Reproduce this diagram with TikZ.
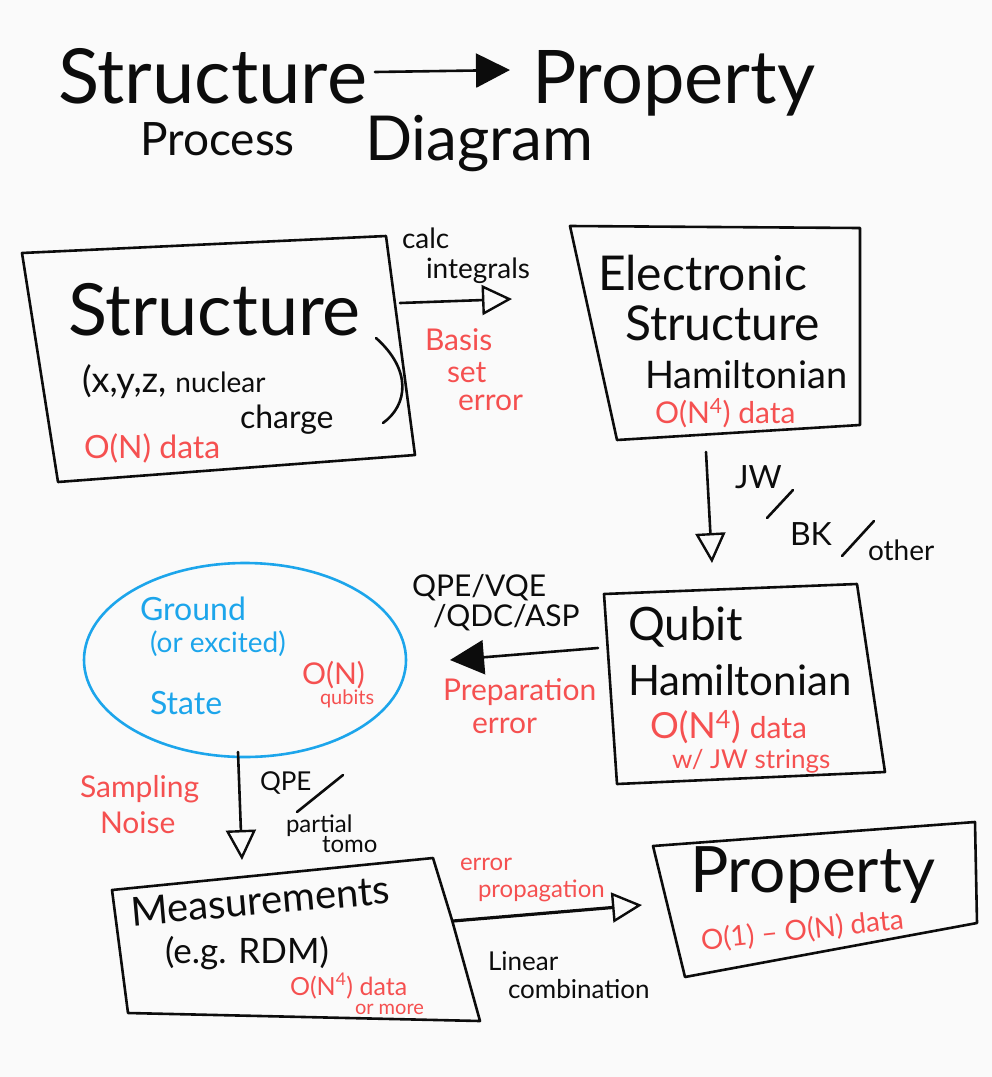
\documentclass[tikz,border=0pt]{standalone}
\usepackage{fontspec}
\setmainfont{Lato}
\usetikzlibrary{arrows.meta,shapes.geometric}
\definecolor{ink}{RGB}{12,12,12}
\definecolor{redink}{RGB}{245,80,80}
\definecolor{blueink}{RGB}{28,165,235}
\definecolor{paper}{RGB}{250,250,250}
\newcommand{\fs}[1]{\fontsize{#1}{#1}\selectfont}
\begin{document}
\begin{tikzpicture}[x=1pt,y=-1pt,
  stroke/.style={draw=ink, line width=2.6pt, line cap=round, line join=round},
  bluestroke/.style={draw=blueink, line width=2.6pt},
  lbl/.style={inner sep=0pt, outer sep=0pt, text=ink, anchor=base west},
  redlbl/.style={lbl, text=redink},
  bluelbl/.style={lbl, text=blueink},
  openhead/.style={-{Triangle[open, length=30pt, width=30pt, line width=2.4pt]}},
  fullhead/.style={-{Triangle[length=34pt, width=34pt]}}
]
\fill[paper] (0,0) rectangle (992,1077);
\useasboundingbox (0,0) rectangle (992,1077);

% ---------- title ----------
\node[lbl, font=\fs{76}] (t1) at (58,103) {Structure};
\node[lbl, font=\fs{74}] (t2) at (532,103) {Property};
\draw[stroke, fullhead] ([xshift=8pt]t1.east |- 0,72) coordinate (ta) -- (510,70) coordinate (tb);
\node[lbl, font=\fs{46}] (t3) at (140,155) {Process};
\node[lbl, font=\fs{62}] (t4) at (365,160) {Diagram};

% ---------- Structure box ----------
\coordinate (s1) at (22,253);
\coordinate (s2) at (386,236);
\coordinate (s3) at (415,455);
\coordinate (s4) at (58,482);
\draw[stroke] (s1) -- (s2) -- (s3) -- (s4) -- cycle;
\node[lbl, font=\fs{72}] (sT) at (68,335) {Structure};
\node[lbl, font=\fs{36}] (sX) at (82,392) {(x,y,z, \fs{28}nuclear};
\node[lbl, font=\fs{32}] (sC) at (240,428) {charge};
\draw[stroke] (376,338) .. controls (412,370) and (408,405) .. (383,423);
\node[redlbl, font=\fs{32}] (sD) at (84,458) {O(N) data};

% ---------- calc integrals arrow ----------
\coordinate (a1s) at (400,303);
\coordinate (a1e) at (512,299);
\draw[stroke, openhead] (a1s) -- (a1e);
\node[lbl, font=\fs{28}] (ci1) at (402,248) {calc};
\node[lbl, font=\fs{28}] (ci2) at (426,278) {integrals};
\node[redlbl, font=\fs{30}] (bs1) at (425,350) {Basis};
\node[redlbl, font=\fs{30}] (bs2) at (447,382) {set};
\node[redlbl, font=\fs{30}] (bs3) at (458,410) {error};

% ---------- Electronic structure Hamiltonian box ----------
\coordinate (e1) at (570,226);
\coordinate (e2) at (860,228);
\coordinate (e3) at (860,425);
\coordinate (e4) at (617,440);
\draw[stroke] (e1) -- (e2) -- (e3) -- (e4) -- cycle;
\node[lbl, font=\fs{48}] (eT1) at (598,290) {Electronic};
\node[lbl, font=\fs{48}] (eT2) at (625,340) {Structure};
\node[lbl, font=\fs{38}] (eT3) at (645,388) {Hamiltonian};
\node[redlbl, font=\fs{30}] (eD) at (655,423) {O(N\textsuperscript{4}) data};

% ---------- JW arrow ----------
\coordinate (a2s) at (706,452);
\coordinate (a2e) at (712,563);
\draw[stroke, openhead] (a2s) -- (a2e);
\node[lbl, font=\fs{32}] (jw) at (735,488) {JW};
\draw[stroke] (767,518) -- (793,490);
\node[lbl, font=\fs{32}] (bk) at (790,545) {BK};
\draw[stroke] (842,556) -- (874,521);
\node[lbl, font=\fs{28}] (oth) at (868,560) {other};

% ---------- Qubit Hamiltonian box ----------
\coordinate (q1) at (604,594);
\coordinate (q2) at (857,584);
\coordinate (q3) at (885,772);
\coordinate (q4) at (617,784);
\draw[stroke] (q1) -- (q2) -- (q3) -- (q4) -- cycle;
\node[lbl, font=\fs{46}] (qT1) at (628,640) {Qubit};
\node[lbl, font=\fs{42}] (qT2) at (628,695) {Hamiltonian};
\node[redlbl, font=\fs{36}] (qD) at (650,738) {O(N\textsuperscript{4}) \fs{30}data};
\node[redlbl, font=\fs{26}] (qW) at (672,768) {w/ JW strings};

% ---------- QPE/VQE arrow ----------
\coordinate (a3s) at (598,648);
\coordinate (a3e) at (450,660);
\draw[stroke, fullhead] (a3s) -- (a3e);
\node[lbl, font=\fs{30}] (qv1) at (412,596) {QPE/VQE};
\node[lbl, font=\fs{30}] (qv2) at (433,626) {/QDC/ASP};
\node[redlbl, font=\fs{30}] (pe1) at (443,700) {Preparation};
\node[redlbl, font=\fs{30}] (pe2) at (472,733) {error};

% ---------- State ellipse ----------
\node[ellipse, bluestroke, minimum width=322pt, minimum height=194pt, inner sep=0pt] (state) at (245,660) {};
\node[bluelbl, font=\fs{32}] (g1) at (140,620) {Ground};
\node[bluelbl, font=\fs{28}] (g2) at (150,652) {(or excited)};
\node[bluelbl, font=\fs{32}] (g3) at (150,714) {State};
\node[redlbl, font=\fs{30}] (oq1) at (302,684) {O(N)};
\node[redlbl, font=\fs{20}] (oq2) at (320,704) {qubits};

% ---------- QPE / partial tomo arrow ----------
\coordinate (a4s) at (238,752);
\coordinate (a4e) at (242,860);
\draw[stroke, openhead] (a4s) -- (a4e);
\node[redlbl, font=\fs{30}] (sn1) at (80,797) {Sampling};
\node[redlbl, font=\fs{30}] (sn2) at (100,833) {Noise};
\node[lbl, font=\fs{26}] (qp) at (260,790) {QPE};
\draw[stroke] (297,812) -- (343,775);
\node[lbl, font=\fs{24}] (pt1) at (286,832) {partial};
\node[lbl, font=\fs{24}] (pt2) at (322,852) {tomo};

% ---------- Measurements box ----------
\coordinate (m1) at (112,890);
\coordinate (m2) at (433,858);
\coordinate (m3) at (480,1021);
\coordinate (m4) at (128,1013);
\draw[stroke] (m1) -- (m2) -- (452,920) -- (m3) -- (m4) -- cycle;
\node[lbl, font=\fs{40}, rotate=5] (mT1) at (132,926) {Measurements};
\node[lbl, font=\fs{35}] (mT2) at (165,963) {(e.g. RDM)};
\node[redlbl, font=\fs{25}] (mD) at (290,995) {O(N\textsuperscript{4}) data};
\node[redlbl, font=\fs{20}] (mM) at (355,1014) {or more};

% ---------- error propagation arrow ----------
\coordinate (a5s) at (453,921);
\coordinate (a5e) at (642,905);
\draw[stroke, line width=3.2pt, openhead] (a5s) -- (a5e);
\node[redlbl, font=\fs{24}] (ep1) at (460,870) {error};
\node[redlbl, font=\fs{24}] (ep2) at (478,897) {propagation};
\node[lbl, font=\fs{26}] (lc1) at (488,970) {Linear};
\node[lbl, font=\fs{26}] (lc2) at (508,998) {combination};

% ---------- Property box ----------
\coordinate (p1) at (653,846);
\coordinate (p2) at (975,822);
\coordinate (p3) at (977,923);
\coordinate (p4) at (685,977);
\draw[stroke] (p1) -- (p2) -- (p3) -- (p4) -- cycle;
\node[lbl, font=\fs{64}] (pT) at (690,892) {Property};
\node[redlbl, font=\fs{28}, rotate=6] (pD) at (702,950) {O(1) – O(N) data};
\end{tikzpicture}
\end{document}
